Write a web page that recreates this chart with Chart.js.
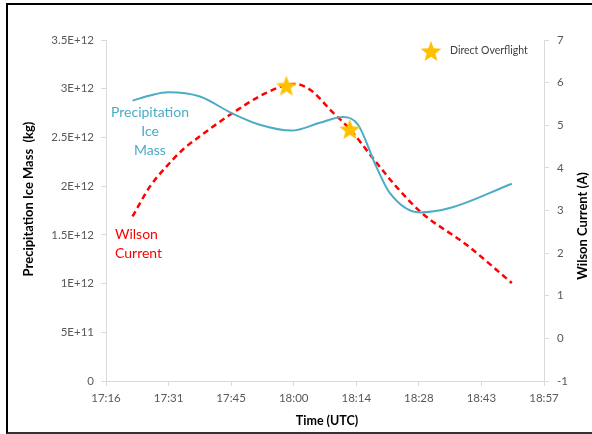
<!DOCTYPE html>
<html>
<head>
<meta charset="utf-8">
<script src="https://cdn.jsdelivr.net/npm/chart.js@4.4.1/dist/chart.umd.min.js"></script>
<style>
  html, body { margin: 0; padding: 0; background: #fff; }
  #wrap { position: relative; width: 592px; height: 434px; overflow: hidden; }
  #frame { position: absolute; left: 6px; top: 3px; width: 620px; height: 427px;
           border-top: 2px solid #000; border-left: 2px solid #000; border-bottom: 2px solid #333; }
  canvas { position: absolute; left: 0; top: 0; }
</style>
</head>
<body>
<div id="wrap"><div id="frame"></div><canvas id="chart" width="592" height="434"></canvas></div>
<script>
// time in minutes after 00:00 UTC
const iceTimes = [1042.9, 1046.9, 1051.1, 1058.4, 1065.7, 1072.2, 1079.5, 1086.0, 1091.3, 1094.8, 1099.0, 1102.1, 1109.0, 1115.9, 1130.2];
const iceMass = [2.878e12, 2.93e12, 2.963e12, 2.92e12, 2.75e12, 2.63e12, 2.57e12, 2.65e12, 2.71e12, 2.63e12, 2.20e12, 1.93e12, 1.73e12, 1.775e12, 2.025e12];
const wilsonTimes = [1042.9, 1046.9, 1050.7, 1054.5, 1058.4, 1066.0, 1073.7, 1080.2, 1083.7, 1089.0, 1092.9, 1097.9, 1103.6, 1109.4, 1119.7, 1130.2];
const wilsonCurrent = [2.86, 3.56, 4.03, 4.43, 4.74, 5.29, 5.76, 5.97, 5.84, 5.30, 4.91, 4.27, 3.56, 2.95, 2.20, 1.30];
const overflightTimes = [1078.3, 1092.9];
const overflightCurrent = [5.93, 4.91];
const xTickLabels = ['17:16', '17:31', '17:45', '18:00', '18:14', '18:28', '18:43', '18:57'];
const massTickLabels = ['0', '5E+11', '1E+12', '1.5E+12', '2E+12', '2.5E+12', '3E+12', '3.5E+12'];

const FONT = 'Lato, "Open Sans", sans-serif';
const GOLD = '#FFC000';
const BLUE = '#4BACC6';
const RED = '#FF0000';
const AXIS = '#D9D9D9';
const TXT = '#595959';

function makeStar(size, color) {
    const c = document.createElement('canvas');
    c.width = size; c.height = size;
    const g = c.getContext('2d');
    const R = size / 2, r = R * 0.42;
    const cx = size / 2, cy = size / 2 + R * 0.095;
    g.beginPath();
    for (let i = 0; i < 10; i++) {
        const a = -Math.PI / 2 + i * Math.PI / 5;
        const rr = i % 2 ? r : R;
        g.lineTo(cx + rr * Math.cos(a), cy + rr * Math.sin(a));
    }
    g.closePath();
    g.fillStyle = color;
    g.fill();
    return c;
}
const starImg = makeStar(22, GOLD);

const pts = (xs, ys) => xs.map((x, i) => ({ x: x, y: ys[i] }));

// texts drawn on top: legend, series labels, axis titles
const extras = {
    id: 'extras',
    afterDraw(chart) {
        const ctx = chart.ctx;
        ctx.save();
        ctx.drawImage(starImg, 431 - 11, 51 - 11);
        ctx.textBaseline = 'middle';
        ctx.textAlign = 'left';
        ctx.fillStyle = '#404040';
        ctx.font = '10.5px ' + FONT;
        ctx.fillText('Direct Overflight', 450, 51);

        ctx.fillStyle = BLUE;
        ctx.font = '14px ' + FONT;
        ctx.textAlign = 'center';
        ctx.fillText('Precipitation', 150, 112);
        ctx.fillText('Ice', 150, 131);
        ctx.fillText('Mass', 150, 150);

        ctx.fillStyle = RED;
        ctx.textAlign = 'left';
        ctx.fillText('Wilson', 115, 234);
        ctx.fillText('Current', 115, 253);

        ctx.fillStyle = '#000';
        ctx.font = 'bold 12.5px ' + FONT;
        ctx.textAlign = 'center';
        ctx.fillText('Time (UTC)', 327, 421);

        ctx.font = 'bold 13px ' + FONT;
        ctx.translate(29, 199);
        ctx.rotate(-Math.PI / 2);
        ctx.fillText('Precipitation Ice Mass  (kg)', 0, 0);
        ctx.restore();

        ctx.save();
        ctx.fillStyle = '#000';
        ctx.font = 'bold 13px ' + FONT;
        ctx.textAlign = 'center';
        ctx.textBaseline = 'middle';
        ctx.translate(583, 226);
        ctx.rotate(-Math.PI / 2);
        ctx.fillText('Wilson Current (A)', 0, 0);
        ctx.restore();
    }
};

const ctx = document.getElementById('chart').getContext('2d');
const chart = new Chart(ctx, {
    type: 'line',
    data: {
        datasets: [{
            label: 'Direct Overflight',
            data: pts(overflightTimes, overflightCurrent),
            yAxisID: 'y1',
            showLine: false,
            pointStyle: starImg,
            pointRadius: 11,
            pointHoverRadius: 11
        }, {
            label: 'Precipitation Ice Mass',
            data: pts(iceTimes, iceMass),
            yAxisID: 'y',
            borderColor: BLUE,
            borderWidth: 2,
            pointRadius: 0,
            cubicInterpolationMode: 'monotone',
            fill: false
        }, {
            label: 'Wilson Current',
            data: pts(wilsonTimes, wilsonCurrent),
            yAxisID: 'y1',
            borderColor: RED,
            borderWidth: 2.5,
            borderDash: [6, 4],
            pointRadius: 0,
            cubicInterpolationMode: 'monotone',
            fill: false
        }]
    },
    options: {
        responsive: false,
        animation: false,
        events: [],
        layout: { padding: { top: 40, left: 0, right: 0, bottom: 0 } },
        plugins: {
            legend: { display: false },
            tooltip: { enabled: false }
        },
        scales: {
            x: {
                type: 'linear',
                min: 1036.8,
                max: 1137.6,
                afterFit: s => { s.height = 53; },
                afterBuildTicks: s => {
                    s.ticks = xTickLabels.map((l, i) => ({ value: 1036.8 + i * 14.4 }));
                },
                grid: { drawOnChartArea: false, color: AXIS, tickLength: 5 },
                border: { color: AXIS },
                ticks: {
                    padding: 5,
                    color: TXT,
                    font: { family: FONT, size: 11.5 },
                    maxRotation: 0,
                    callback: (v, i) => xTickLabels[i]
                }
            },
            y: {
                position: 'left',
                min: 0,
                max: 3.5e12,
                afterFit: s => { s.width = 106; },
                afterBuildTicks: s => {
                    s.ticks = massTickLabels.map((l, i) => ({ value: i * 5e11 }));
                },
                grid: { drawOnChartArea: false, color: AXIS, tickLength: 5 },
                border: { color: AXIS },
                ticks: {
                    padding: 7,
                    color: TXT,
                    font: { family: FONT, size: 11.5 },
                    callback: (v, i) => massTickLabels[i]
                }
            },
            y1: {
                position: 'right',
                min: -1,
                max: 7,
                afterFit: s => { s.width = 48; },
                grid: { drawOnChartArea: false, color: AXIS, tickLength: 5 },
                border: { color: AXIS },
                ticks: {
                    stepSize: 1,
                    padding: 8,
                    color: TXT,
                    font: { family: FONT, size: 11.5 }
                }
            }
        }
    },
    plugins: [extras]
});
</script>
</body>
</html>
